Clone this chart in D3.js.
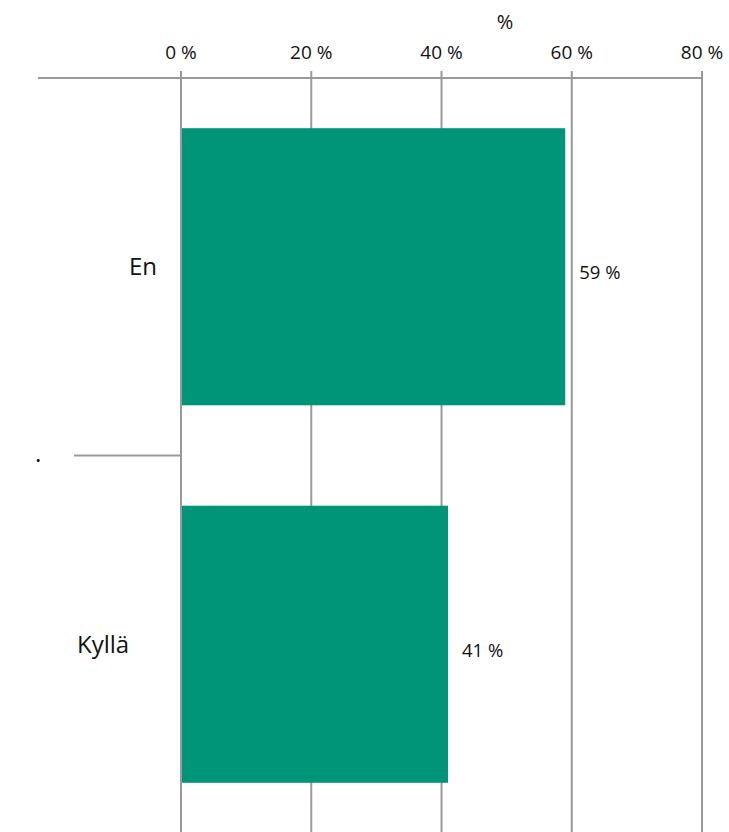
<!DOCTYPE html>
<html>
<head>
    <meta charset="utf-8">
    <script src="https://d3js.org/d3.v7.min.js"></script>
    <style>
        body { margin: 0; background: white; }
        svg { display: block; font-family: 'Open Sans', 'Noto Sans', sans-serif; }
        .grid line { stroke: #999; stroke-width: 2px; }
        .tick-label { font-size: 19px; fill: #111; }
        .title { font-size: 20px; fill: #111; }
        .cat { font-size: 24px; fill: #111; }
        .val { font-size: 18.5px; fill: #111; }
    </style>
</head>
<body>
    <svg width="729" height="832"></svg>
    <script>
        // data
        const categories = ["En", "Kyllä"];
        const values = [59, 41];
        const tickValues = [0, 20, 40, 60, 80];
        const axisTitle = "%";

        const svg = d3.select("svg");
        const color = "#009479";

        const x = d3.scaleLinear().domain([0, 80]).range([181, 702]);
        const y = d3.scaleBand().domain(categories).range([78, 833])
            .paddingInner(0.266).paddingOuter(0.133);

        // vertical gridlines
        svg.append("g").attr("class", "grid")
            .selectAll("line")
            .data(tickValues)
            .enter().append("line")
            .attr("x1", d => x(d)).attr("x2", d => x(d))
            .attr("y1", 71).attr("y2", 832);

        // top axis line
        svg.append("line")
            .attr("x1", 38).attr("x2", x(80))
            .attr("y1", 78).attr("y2", 78)
            .attr("stroke", "#999").attr("stroke-width", 2);

        // tick labels
        svg.append("g").selectAll("text")
            .data(tickValues)
            .enter().append("text")
            .attr("class", "tick-label")
            .attr("x", d => x(d))
            .attr("y", 59)
            .attr("text-anchor", "middle")
            .text(d => d + " %");

        svg.append("text")
            .attr("class", "title")
            .attr("x", 505).attr("y", 29)
            .attr("text-anchor", "middle")
            .text(axisTitle);

        // category separator
        const sep = (y(categories[0]) + y.bandwidth() + y(categories[1])) / 2;
        svg.append("line")
            .attr("x1", 74).attr("x2", x(0))
            .attr("y1", sep).attr("y2", sep)
            .attr("stroke", "#999").attr("stroke-width", 2);
        svg.append("text")
            .attr("class", "cat")
            .attr("x", 35).attr("y", sep + 6)
            .text(".");

        // bars
        svg.append("g").selectAll("rect")
            .data(categories)
            .enter().append("rect")
            .attr("x", x(0) + 1)
            .attr("y", d => y(d))
            .attr("width", (d, i) => x(values[i]) - x(0) - 1)
            .attr("height", y.bandwidth())
            .attr("fill", color);

        // category labels
        const labelX = { "En": 129, "Kyllä": 77 };
        svg.append("g").selectAll("text")
            .data(categories)
            .enter().append("text")
            .attr("class", "cat")
            .attr("x", d => labelX[d])
            .attr("y", d => y(d) + y.bandwidth() / 2)
            .attr("dy", "0.35em")
            .text(d => d);

        // value labels
        svg.append("g").selectAll("text")
            .data(categories)
            .enter().append("text")
            .attr("class", "val")
            .attr("x", (d, i) => x(values[i]) + 14)
            .attr("y", d => y(d) + y.bandwidth() / 2 + 6)
            .attr("dy", "0.35em")
            .text((d, i) => values[i] + " %");
    </script>
</body>
</html>
